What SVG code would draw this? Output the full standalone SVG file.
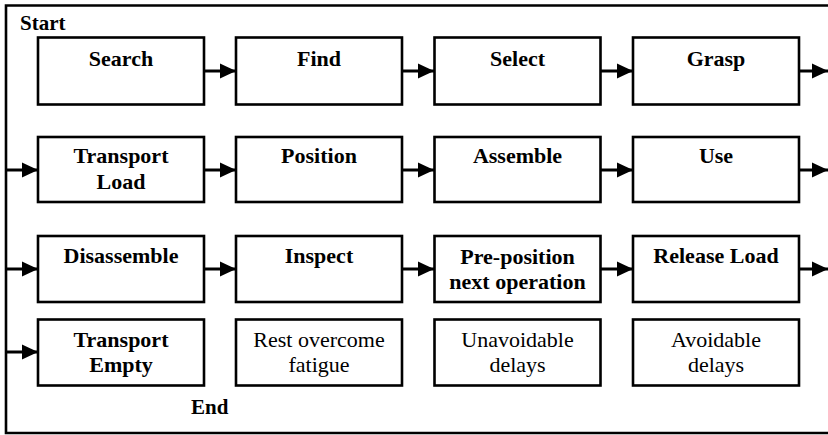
<svg xmlns="http://www.w3.org/2000/svg" width="828" height="435" viewBox="0 0 828 435">
<style>
.box{fill:#fff;stroke:#000;stroke-width:2.6}
text{font-family:'Liberation Serif','Times New Roman',Times,'DejaVu Serif',serif;fill:#000}
.b{font-weight:bold;font-size:22px;text-anchor:middle}
.r{font-size:22px;text-anchor:middle}
.lbl{font-weight:bold;font-size:21px}
.c{stroke:#000;stroke-width:3;fill:none;marker-end:url(#ah)}
</style>
<defs>
<marker id="ah" markerUnits="userSpaceOnUse" markerWidth="17" markerHeight="17" refX="16" refY="8" orient="auto" viewBox="0 0 17 17">
<path d="M0,0.5 L16,8 L0,15.5 Z" fill="#000"/>
</marker>
</defs>
<rect width="828" height="435" fill="#fff"/>
<path d="M830,5.5 H6 V433 H830" fill="none" stroke="#000" stroke-width="2.6"/>
<text class="lbl" x="20" y="30">Start</text>
<text class="lbl" x="191" y="414">End</text>
<g id="connectors">
<path class="c" d="M204,71 H236"/>
<path class="c" d="M402,71 H434"/>
<path class="c" d="M600,71 H633"/>
<path class="c" d="M799,71 H828"/>
<path class="c" d="M6,170 H38"/>
<path class="c" d="M204,170 H236"/>
<path class="c" d="M402,170 H434"/>
<path class="c" d="M600,170 H633"/>
<path class="c" d="M799,170 H828"/>
<path class="c" d="M6,269 H38"/>
<path class="c" d="M204,269 H236"/>
<path class="c" d="M402,269 H434"/>
<path class="c" d="M600,269 H633"/>
<path class="c" d="M799,269 H828"/>
<path class="c" d="M6,352 H38"/>
</g>
<g id="search"><rect class="box" x="38" y="37.5" width="166" height="67"/><text class="b" x="121" y="66">Search</text></g>
<g id="find"><rect class="box" x="236" y="37.5" width="166" height="67"/><text class="b" x="319" y="66">Find</text></g>
<g id="select"><rect class="box" x="434.5" y="37.5" width="166" height="67"/><text class="b" x="517.5" y="66">Select</text></g>
<g id="grasp"><rect class="box" x="633" y="37.5" width="166" height="67"/><text class="b" x="716" y="66">Grasp</text></g>
<g id="transport-load"><rect class="box" x="38" y="137" width="166" height="65"/><text class="b" x="121" y="163">Transport</text><text class="b" x="121" y="189">Load</text></g>
<g id="position"><rect class="box" x="236" y="137" width="166" height="65"/><text class="b" x="319" y="163">Position</text></g>
<g id="assemble"><rect class="box" x="434.5" y="137" width="166" height="65"/><text class="b" x="517.5" y="163">Assemble</text></g>
<g id="use"><rect class="box" x="633" y="137" width="166" height="65"/><text class="b" x="716" y="163">Use</text></g>
<g id="disassemble"><rect class="box" x="38" y="236" width="166" height="66"/><text class="b" x="121" y="263">Disassemble</text></g>
<g id="inspect"><rect class="box" x="236" y="236" width="166" height="66"/><text class="b" x="319" y="263">Inspect</text></g>
<g id="pre-position"><rect class="box" x="434.5" y="236" width="166" height="66"/><text class="b" x="517.5" y="264">Pre-position</text><text class="b" x="517.5" y="289">next operation</text></g>
<g id="release-load"><rect class="box" x="633" y="236" width="166" height="66"/><text class="b" x="716" y="263">Release Load</text></g>
<g id="transport-empty"><rect class="box" x="38" y="319.5" width="166" height="66"/><text class="b" x="121" y="347">Transport</text><text class="b" x="121" y="372">Empty</text></g>
<g id="rest"><rect class="box" x="236" y="319.5" width="166" height="66"/><text class="r" x="319" y="347">Rest overcome</text><text class="r" x="319" y="372">fatigue</text></g>
<g id="unavoidable"><rect class="box" x="434.5" y="319.5" width="166" height="66"/><text class="r" x="517.5" y="347">Unavoidable</text><text class="r" x="517.5" y="372">delays</text></g>
<g id="avoidable"><rect class="box" x="633" y="319.5" width="166" height="66"/><text class="r" x="716" y="347">Avoidable</text><text class="r" x="716" y="372">delays</text></g>
</svg>
